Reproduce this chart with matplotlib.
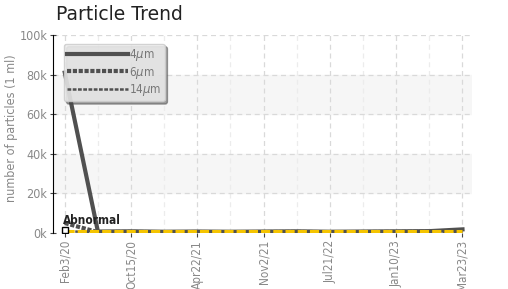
import matplotlib.pyplot as plt
from matplotlib.ticker import FuncFormatter
from matplotlib import font_manager

dates = ['Feb3/20', 'Jun10/20', 'Oct15/20', 'Jan20/21', 'Apr22/21', 'Aug5/21', 'Nov2/21',
         'Mar15/22', 'Jul21/22', 'Oct30/22', 'Jan10/23', 'Feb16/23', 'Mar23/23']
p4 = [81000, 700, 800, 600, 700, 600, 700, 800, 600, 700, 800, 900, 1800]
p6 = [5000, 400, 500, 400, 450, 400, 450, 500, 400, 450, 500, 600, 1200]
p14 = [1000, 100, 120, 100, 110, 100, 110, 120, 100, 110, 120, 150, 400]
limit = [1000] * len(dates)
abnormal_idx = [0]


def narrow(size):
    return font_manager.FontProperties(family='DejaVu Sans', stretch='condensed', size=size)


fig = plt.figure(figsize=(5.08, 2.89), dpi=100)
ax = fig.add_axes([0.104, 0.194, 0.826, 0.685])
x = list(range(len(dates)))

# alternating bands
for lo in (20000, 60000):
    ax.axhspan(lo, lo + 20000, color='#f6f6f6', zorder=0)

for i in x:
    ax.axvline(i, color='#d9d9d9' if i % 2 == 0 else '#ececec', ls=(0, (4, 3)), lw=0.9, zorder=1)
for v in range(20000, 100001, 20000):
    ax.axhline(v, color='#d9d9d9', ls=(0, (4, 3)), lw=0.9, zorder=1)

ax.plot(x, p4, color='#505050', lw=3, label='4$\\mu$m', zorder=3)
ax.plot(x, p6, color='#505050', lw=3, ls=(0, (1, 0.4)), label='6$\\mu$m', zorder=3)
ax.plot(x, p14, color='#505050', lw=1.8, ls=(0, (1.5, 0.6)), label='14$\\mu$m', zorder=3)
ax.plot(x, limit, color='#f5c400', lw=2.2, ls=(0, (3, 1)), zorder=4)

for i in abnormal_idx:
    ax.plot(i, 1500, marker='s', ms=4, mfc='white', mec='black', mew=1, zorder=5)
    ax.text(i - 0.05, 4500, 'Abnormal', fontproperties=narrow(8.5), fontweight='bold',
            color='#222222', zorder=5)

ax.set_xlim(-0.36, 12.3)
ax.set_ylim(0, 100000)
ax.set_yticks(range(0, 100001, 20000))
ax.yaxis.set_major_formatter(FuncFormatter(lambda v, p: '%dk' % (v / 1000)))
ax.set_xticks(x[::2])
ax.set_xticklabels(dates[::2], rotation=90)

for s in ('top', 'right', 'bottom'):
    ax.spines[s].set_visible(False)
ax.spines['left'].set_color('black')
ax.tick_params(axis='y', colors='#888888', length=4, direction='inout', pad=2)
ax.tick_params(axis='x', colors='#888888', length=3, pad=2)
for lab in ax.get_yticklabels():
    lab.set_fontproperties(narrow(9))
for lab in ax.get_xticklabels():
    lab.set_fontproperties(narrow(8.5))
ax.tick_params(axis='both', which='both', color='#444444')

ax.set_ylabel('number of particles (1 ml)', color='#888888', fontproperties=narrow(9))
ax.yaxis.set_label_coords(-0.082, 0.53)
fig.text(0.11, 0.93, 'Particle Trend', fontsize=13.5, color='#222222')

leg = ax.legend(loc='upper left', bbox_to_anchor=(0.012, 0.985), fancybox=True, shadow=True,
                handlelength=5.1, handletextpad=0.1, labelspacing=0.1, borderpad=0.3,
                framealpha=0.85, facecolor='#eeeeee', edgecolor='#cccccc', prop=narrow(8.5))
for t in leg.get_texts():
    t.set_color('#777777')

fig.savefig('out.png', dpi=100)
